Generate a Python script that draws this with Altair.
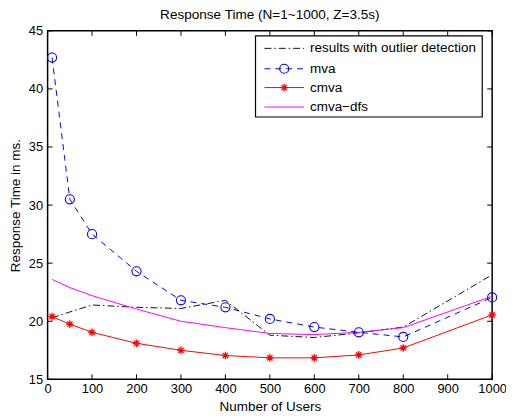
import altair as alt
import pandas as pd

# ---- data ----
users = [10, 50, 100, 200, 300, 400, 500, 600, 700, 800, 1000]
outlier = [20.3, 20.8, 21.4, 21.2, 21.1, 21.8, 18.8, 18.6, 19.0, 19.5, 24.0]
mva = [42.7, 30.5, 27.5, 24.3, 21.8, 21.2, 20.2, 19.5, 19.05, 18.65, 22.05]
cmva = [20.4, 19.75, 19.05, 18.1, 17.5, 17.05, 16.85, 16.85, 17.1, 17.7, 20.55]
cmva_dfs = [23.6, 22.9, 22.2, 21.05, 20.0, 19.45, 18.95, 18.85, 19.05, 19.45, 22.15]

x_ticks = [0, 100, 200, 300, 400, 500, 600, 700, 800, 900, 1000]
y_ticks = [15, 20, 25, 30, 35, 40, 45]
legend_labels = ["results with outlier detection", "mva", "cmva", "cmva\u2212dfs"]

title_text = "Response Time (N=1~1000, Z=3.5s)"
x_title = "Number of Users"
y_title = "Response Time in ms."

FONT = "Liberation Sans"
W, H = 449, 352

df = pd.DataFrame({"users": users, "outlier": outlier, "mva": mva,
                   "cmva": cmva, "cmva_dfs": cmva_dfs})

xscale = alt.Scale(domain=[0, 1000], nice=False, zero=False)
yscale = alt.Scale(domain=[15, 45], nice=False, zero=False)

xaxis = alt.Axis(values=x_ticks, format="d", title=x_title, labelPadding=3,
                 titlePadding=4, labelFlush=False, labelOverlap=False)
yaxis = alt.Axis(values=y_ticks, format="d", title=y_title, labelPadding=5,
                 titlePadding=6, labelFlush=False, labelOverlap=False)

X = alt.X("users:Q", scale=xscale, axis=xaxis)


def Y(field):
    return alt.Y(f"{field}:Q", scale=yscale, axis=yaxis)


asterisk = "M-1,0L1,0M0,-1L0,1M-0.7,-0.7L0.7,0.7M-0.7,0.7L0.7,-0.7"

base = alt.Chart(df)

l_outlier = base.mark_line(color="#111111", strokeWidth=1, strokeDash=[7, 3, 1.5, 3]).encode(x=X, y=Y("outlier"))
l_mva = base.mark_line(color="#0000ff", strokeWidth=1, strokeDash=[6, 5]).encode(x=X, y=Y("mva"))
p_mva = base.mark_point(shape="circle", size=85, filled=False, color="#0000ff", strokeWidth=1.1, opacity=1).encode(x=X, y=Y("mva"))
l_cmva = base.mark_line(color="#ff0000", strokeWidth=1).encode(x=X, y=Y("cmva"))
p_cmva = base.mark_point(shape=asterisk, size=60, filled=False, color="#ff0000", strokeWidth=1.3, opacity=1).encode(x=X, y=Y("cmva"))
l_dfs = base.mark_line(color="#ff00ff", strokeWidth=1).encode(x=X, y=Y("cmva_dfs"))

# inward ticks on all four sides (MATLAB style)
tx = alt.Chart(pd.DataFrame({"t": x_ticks}))
ty = alt.Chart(pd.DataFrame({"t": y_ticks}))
TX = alt.X("t:Q", scale=xscale, axis=xaxis)
TY = alt.Y("t:Q", scale=yscale, axis=yaxis)
tick_style = dict(color="black", strokeWidth=1)
ticks = [
    tx.mark_rule(**tick_style).encode(x=TX, y=alt.value(H), y2=alt.value(H - 5)),
    tx.mark_rule(**tick_style).encode(x=TX, y=alt.value(0), y2=alt.value(5)),
    ty.mark_rule(**tick_style).encode(y=TY, x=alt.value(0), x2=alt.value(5)),
    ty.mark_rule(**tick_style).encode(y=TY, x=alt.value(W), x2=alt.value(W - 5)),
]

# manual legend (box, samples, labels)
dummy = alt.Chart(pd.DataFrame({"a": [0]}))
lx0, lx1, lmid, ltext = 219, 259, 239, 265
rows = [17.7, 38.3, 57.3, 77]
legend = [
    dummy.mark_rect(fill="white", stroke="black", strokeWidth=1.2).encode(
        x=alt.value(210), x2=alt.value(439), y=alt.value(5), y2=alt.value(87)),
    dummy.mark_rule(color="#111111", strokeWidth=1, strokeDash=[7, 3, 1.5, 3]).encode(
        x=alt.value(lx0), x2=alt.value(lx1), y=alt.value(rows[0])),
    dummy.mark_rule(color="#0000ff", strokeWidth=1, strokeDash=[6, 5]).encode(
        x=alt.value(lx0), x2=alt.value(lx1), y=alt.value(rows[1])),
    dummy.mark_point(shape="circle", size=85, filled=False, color="#0000ff", strokeWidth=1.1, opacity=1).encode(
        x=alt.value(lmid), y=alt.value(rows[1])),
    dummy.mark_rule(color="#ff0000", strokeWidth=1).encode(
        x=alt.value(lx0), x2=alt.value(lx1), y=alt.value(rows[2])),
    dummy.mark_point(shape=asterisk, size=60, filled=False, color="#ff0000", strokeWidth=1.3, opacity=1).encode(
        x=alt.value(lmid), y=alt.value(rows[2])),
    dummy.mark_rule(color="#ff00ff", strokeWidth=1).encode(
        x=alt.value(lx0), x2=alt.value(lx1), y=alt.value(rows[3])),
]
for lab, ry in zip(legend_labels, rows):
    legend.append(dummy.mark_text(text=lab, align="left", baseline="middle", font=FONT,
                                  fontSize=13.6, color="black").encode(
        x=alt.value(ltext), y=alt.value(ry)))

chart = alt.layer(
    l_outlier, l_dfs, l_mva, p_mva, l_cmva, p_cmva, *ticks, *legend
).properties(
    width=W, height=H,
    title=alt.TitleParams(title_text, font=FONT, fontSize=13.7, fontWeight="normal",
                          color="black", offset=3),
    autosize=alt.AutoSizeParams(type="none"),
    padding={"left": 40, "top": 21, "right": 14, "bottom": 38},
).configure_view(
    stroke="black", strokeWidth=1.5
).configure_axis(
    domain=False, ticks=False, grid=False,
    labelFont=FONT, labelFontSize=13, labelColor="black",
    titleFont=FONT, titleFontSize=13.6, titleFontWeight="normal", titleColor="black",
)

chart.save("out.html", embed_options={"renderer": "svg", "actions": False})
